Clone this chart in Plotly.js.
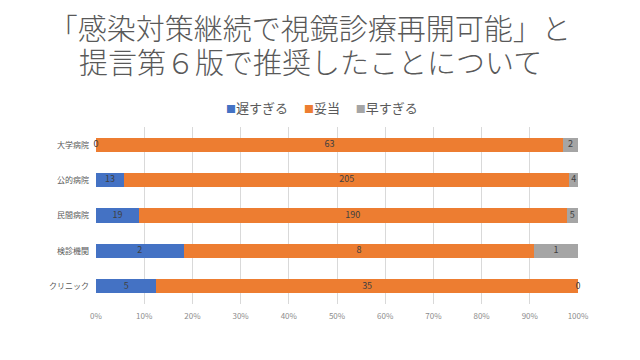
<!DOCTYPE html>
<html><head><meta charset="utf-8">
<script src="https://cdn.plot.ly/plotly-3.0.1.min.js"></script>
<style>html,body{margin:0;padding:0;background:#fff}#c{width:640px;height:360px}</style>
</head><body><div id="c"></div>
<script>
const categories = ["大学病院","公的病院","民間病院","検診機関","クリニック"];
const seriesNames = ["遅すぎる","妥当","早すぎる"];
const tooLate = [0,13,19,2,5];
const adequate = [63,205,190,8,35];
const tooEarly = [2,4,5,1,0];
const colors = ["#4472C4","#ED7D31","#A5A5A5"];
const titleLines = ["「感染対策継続で視鏡診療再開可能」と","提言第６版で推奨したことについて"];
const vals = [tooLate, adequate, tooEarly];
const font = '"Noto Sans CJK JP", "Noto Sans", sans-serif';
const traces = vals.map((v,i)=>({
  type:'bar', orientation:'h', name:seriesNames[i],
  y:categories, x:v, textposition:'none',
  marker:{color:colors[i]}, width:0.4, hoverinfo:'none', showlegend:false
}));
// data labels at the centre of each stacked segment (percent of row total)
const lx=[], ly=[], lt=[];
categories.forEach((c,j)=>{
  const tot = vals.reduce((s,v)=>s+v[j],0);
  let cum = 0;
  vals.forEach(v=>{ lx.push((cum+v[j]/2)/tot*100); ly.push(c); lt.push(String(v[j])); cum += v[j]; });
});
traces.push({type:'scatter', mode:'text', x:lx, y:ly, text:lt, showlegend:false, cliponaxis:false,
  textposition:'middle center', textfont:{family:font,size:9,color:'#404040'}, hoverinfo:'none'});
const legendText = seriesNames.map((n,i)=>
  `<span style="color:${colors[i]};font-size:10px">■</span>${n}`).join('　 ');
const layout = {
  width:640, height:360, paper_bgcolor:'#fff', plot_bgcolor:'#fff',
  barmode:'stack', barnorm:'percent',
  margin:{l:96,r:62,t:127,b:56},
  title:{text:titleLines[0],
    font:{family:font,size:29,color:'#595959',weight:300}, x:0.484, xanchor:'center', yref:'container', y:0.917, yanchor:'middle'},
  showlegend:false,
  annotations:[
    {text:titleLines[1], xref:'paper', yref:'paper', x:0.445, y:1.373, xanchor:'center', yanchor:'middle',
     showarrow:false, font:{family:font,size:29,color:'#595959',weight:300}},
    {text:legendText, xref:'paper', yref:'paper', x:0.469, y:1.11, xanchor:'center', yanchor:'middle',
     showarrow:false, font:{family:font,size:13,color:'#595959'}}
  ],
  xaxis:{range:[0,100], dtick:10, ticksuffix:'%', showgrid:true, gridcolor:'#D9D9D9', zeroline:false,
    tickfont:{family:font,size:8,color:'#8c8c8c'}, ticklabelstandoff:6, fixedrange:true},
  yaxis:{autorange:'reversed', tickfont:{family:font,size:8,color:'#595959'}, ticks:'', ticklen:0,
    ticklabelstandoff:6, showgrid:false, zeroline:false},
  font:{family:font}
};
Plotly.newPlot('c', traces, layout, {displayModeBar:false, staticPlot:true});
</script></body></html>
